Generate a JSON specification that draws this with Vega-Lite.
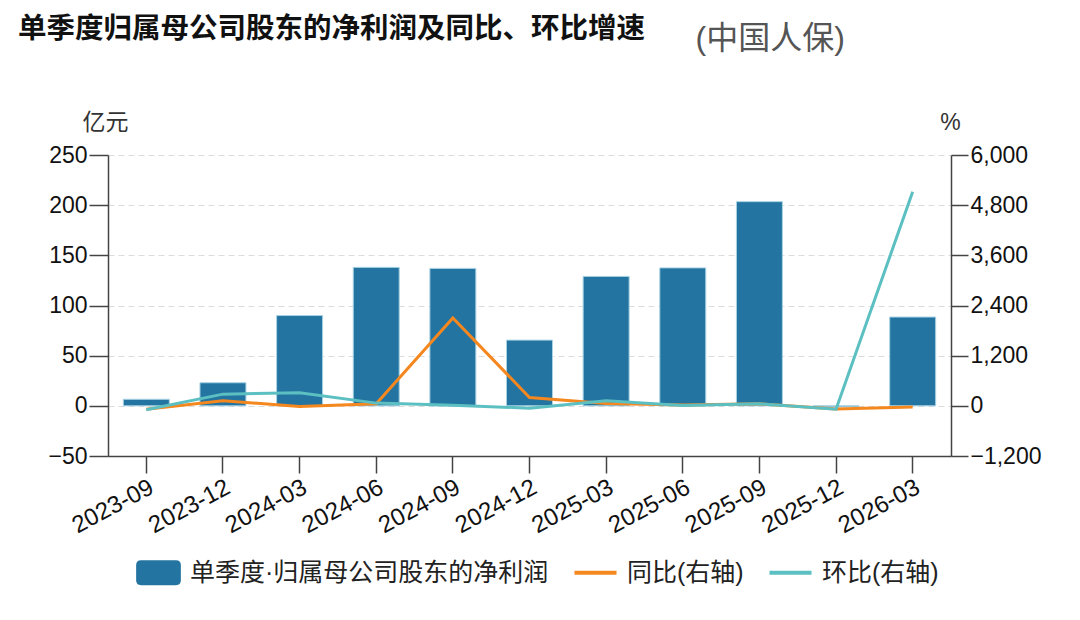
{
  "$schema": "https://vega.github.io/schema/vega-lite/v6.json",
  "width": 843,
  "height": 301,
  "autosize": "none",
  "padding": {"left": 108, "top": 155, "right": 129, "bottom": 164},
  "background": "white",
  "title": {
    "text": "单季度归属母公司股东的净利润及同比、环比增速",
    "anchor": "start",
    "frame": "group",
    "dx": -90,
    "dy": 25,
    "font": "Noto Sans CJK SC",
    "fontSize": 28.5,
    "fontWeight": "bold",
    "color": "#111111"
  },
  "data": {
    "values": [
      {"季度": "2023-09", "指标": "单季度·归属母公司股东的净利润", "数值": 6.5},
      {"季度": "2023-12", "指标": "单季度·归属母公司股东的净利润", "数值": 23},
      {"季度": "2024-03", "指标": "单季度·归属母公司股东的净利润", "数值": 90},
      {"季度": "2024-06", "指标": "单季度·归属母公司股东的净利润", "数值": 138},
      {"季度": "2024-09", "指标": "单季度·归属母公司股东的净利润", "数值": 137},
      {"季度": "2024-12", "指标": "单季度·归属母公司股东的净利润", "数值": 65.5},
      {"季度": "2025-03", "指标": "单季度·归属母公司股东的净利润", "数值": 129},
      {"季度": "2025-06", "指标": "单季度·归属母公司股东的净利润", "数值": 137.5},
      {"季度": "2025-09", "指标": "单季度·归属母公司股东的净利润", "数值": 203.5},
      {"季度": "2025-12", "指标": "单季度·归属母公司股东的净利润", "数值": -1},
      {"季度": "2026-03", "指标": "单季度·归属母公司股东的净利润", "数值": 88.5},
      {"季度": "2023-09", "指标": "同比(右轴)", "数值": -80},
      {"季度": "2023-12", "指标": "同比(右轴)", "数值": 120},
      {"季度": "2024-03", "指标": "同比(右轴)", "数值": -15},
      {"季度": "2024-06", "指标": "同比(右轴)", "数值": 50},
      {"季度": "2024-09", "指标": "同比(右轴)", "数值": 2100},
      {"季度": "2024-12", "指标": "同比(右轴)", "数值": 200},
      {"季度": "2025-03", "指标": "同比(右轴)", "数值": 55},
      {"季度": "2025-06", "指标": "同比(右轴)", "数值": 20},
      {"季度": "2025-09", "指标": "同比(右轴)", "数值": 50},
      {"季度": "2025-12", "指标": "同比(右轴)", "数值": -75},
      {"季度": "2026-03", "指标": "同比(右轴)", "数值": -25},
      {"季度": "2023-09", "指标": "环比(右轴)", "数值": -95},
      {"季度": "2023-12", "指标": "环比(右轴)", "数值": 280},
      {"季度": "2024-03", "指标": "环比(右轴)", "数值": 310},
      {"季度": "2024-06", "指标": "环比(右轴)", "数值": 65},
      {"季度": "2024-09", "指标": "环比(右轴)", "数值": 15},
      {"季度": "2024-12", "指标": "环比(右轴)", "数值": -55},
      {"季度": "2025-03", "指标": "环比(右轴)", "数值": 120},
      {"季度": "2025-06", "指标": "环比(右轴)", "数值": 7},
      {"季度": "2025-09", "指标": "环比(右轴)", "数值": 48},
      {"季度": "2025-12", "指标": "环比(右轴)", "数值": -80},
      {"季度": "2026-03", "指标": "环比(右轴)", "数值": 5120}
    ]
  },
  "layer": [
    {
      "transform": [{"filter": "datum['指标'] === '单季度·归属母公司股东的净利润'"}],
      "mark": {"type": "bar", "color": "#2374a1", "stroke": "#a9d3e4", "strokeWidth": 1},
      "encoding": {
        "x": {
          "field": "季度",
          "type": "ordinal",
          "scale": {"paddingInner": 0.4, "paddingOuter": 0.2, "align": 0.5},
          "axis": {
            "orient": "bottom",
            "title": null,
            "labelAngle": -28,
            "labelAlign": "right",
            "labelBaseline": "top",
            "labelFontSize": 24,
            "labelPadding": 2,
            "tickSize": 17,
            "grid": false
          }
        },
        "y": {
          "field": "数值",
          "type": "quantitative",
          "scale": {"domain": [-50, 250], "nice": false, "zero": false},
          "axis": {
            "orient": "left",
            "values": [-50, 0, 50, 100, 150, 200, 250],
            "title": "亿元",
            "titleAngle": 0,
            "titleX": -26,
            "titleY": -33,
            "titleAlign": "left",
            "titleBaseline": "middle",
            "titleFontSize": 23,
            "titleFontWeight": "normal",
            "titleColor": "#333333",
            "tickSize": 19,
            "grid": true
          }
        }
      }
    },
    {
      "encoding": {
        "x": {
          "field": "季度",
          "type": "ordinal",
          "axis": {
            "orient": "top",
            "title": "(中国人保)",
            "labels": false,
            "ticks": false,
            "domain": false,
            "grid": false,
            "titleX": 587,
            "titleY": -117,
            "titleAlign": "left",
            "titleBaseline": "middle",
            "titleFontSize": 32,
            "titleFontWeight": "normal",
            "titleColor": "#555555"
          }
        },
        "y": {
          "field": "数值",
          "type": "quantitative",
          "scale": {"domain": [-1200, 6000], "nice": false, "zero": false},
          "axis": {
            "orient": "right",
            "values": [-1200, 0, 1200, 2400, 3600, 4800, 6000],
            "format": ",.0f",
            "title": "%",
            "titleAngle": 0,
            "titleX": -1,
            "titleY": -33,
            "titleAlign": "center",
            "titleBaseline": "middle",
            "titleFontSize": 23,
            "titleFontWeight": "normal",
            "titleColor": "#333333",
            "tickSize": 17,
            "grid": false
          }
        }
      },
      "layer": [
        {
          "transform": [{"filter": "datum['指标'] === '同比(右轴)'"}],
          "mark": {"type": "line", "strokeWidth": 3, "color": "#f5871f"}
        },
        {
          "transform": [{"filter": "datum['指标'] === '环比(右轴)'"}],
          "mark": {"type": "line", "strokeWidth": 3, "color": "#5cbfc1"}
        },
        {
          "mark": {"type": "point", "filled": true, "opacity": 0},
          "encoding": {
            "color": {
              "field": "指标",
              "type": "nominal",
              "scale": {
                "domain": ["单季度·归属母公司股东的净利润", "同比(右轴)", "环比(右轴)"],
                "range": ["#2374a1", "#f5871f", "#5cbfc1"]
              },
              "legend": {
                "title": null,
                "orient": "none",
                "direction": "horizontal",
                "legendX": 28,
                "legendY": 395,
                "symbolSize": 2000,
                "symbolOpacity": 1,
                "symbolStrokeWidth": 0,
                "labelFontSize": 25,
                "labelLimit": 0,
                "labelColor": "#222222",
                "labelOffset": 9,
                "columnPadding": 24
              }
            },
            "shape": {
              "field": "指标",
              "type": "nominal",
              "scale": {
                "domain": ["单季度·归属母公司股东的净利润", "同比(右轴)", "环比(右轴)"],
                "range": [
                  "M-0.78,-0.56 L0.78,-0.56 Q1,-0.56 1,-0.34 L1,0.34 Q1,0.56 0.78,0.56 L-0.78,0.56 Q-1,0.56 -1,0.34 L-1,-0.34 Q-1,-0.56 -0.78,-0.56 Z",
                  "M-0.94,-0.09 L0.94,-0.09 L0.94,0.09 L-0.94,0.09 Z",
                  "M-0.94,-0.09 L0.94,-0.09 L0.94,0.09 L-0.94,0.09 Z"
                ]
              },
              "legend": {
                "title": null,
                "orient": "none",
                "direction": "horizontal",
                "legendX": 28,
                "legendY": 395,
                "symbolSize": 2000,
                "symbolOpacity": 1,
                "symbolStrokeWidth": 0,
                "labelFontSize": 25,
                "labelLimit": 0,
                "labelColor": "#222222",
                "labelOffset": 9,
                "columnPadding": 24
              }
            }
          }
        }
      ]
    }
  ],
  "resolve": {"scale": {"y": "independent"}, "axis": {"x": "independent"}},
  "config": {
    "font": "Liberation Sans, Noto Sans CJK SC",
    "view": {"stroke": null},
    "axis": {
      "domainColor": "#444444",
      "domainWidth": 1.5,
      "tickColor": "#444444",
      "tickWidth": 1.5,
      "labelColor": "#111111",
      "labelFont": "Liberation Sans, Noto Sans CJK SC",
      "labelFontSize": 23,
      "labelPadding": 2,
      "gridColor": "#dcdcdc",
      "gridDash": [6, 4],
      "gridWidth": 1.2
    },
    "legend": {
      "labelFont": "Liberation Sans, Noto Sans CJK SC"
    }
  }
}
